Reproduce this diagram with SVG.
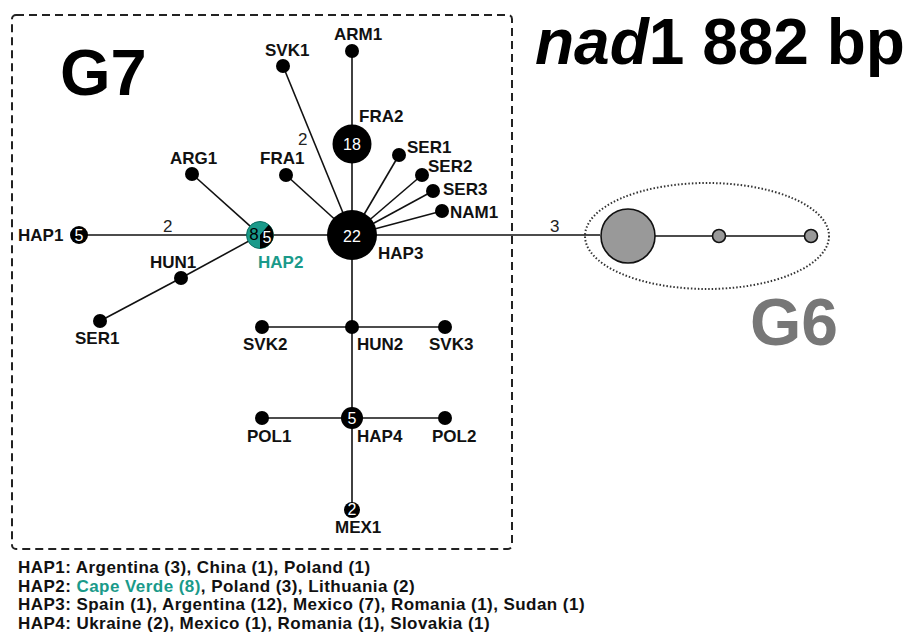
<svg xmlns="http://www.w3.org/2000/svg" width="909" height="635" viewBox="0 0 909 635">
<style>
text{font-family:"Liberation Sans",Arial,sans-serif}
.lb{font-size:17px;font-weight:bold;fill:#111}
.num{font-size:16px;fill:#fff;text-anchor:middle}
.e{stroke:#111;stroke-width:1.6;fill:none}
.dot{fill:#000}
.g6{fill:#999;stroke:#111;stroke-width:1.6}
.leg{font-size:17px;font-weight:bold;fill:#111;letter-spacing:0.45px}
.el{font-size:17px;fill:#222}
</style>
<rect x="0" y="0" width="909" height="635" fill="#fff"/>
<rect x="12" y="15" width="500" height="534" rx="4" fill="none" stroke="#222" stroke-width="2" stroke-dasharray="8 5"/>
<text x="60" y="95" font-size="65" font-weight="bold" fill="#000">G7</text>
<text x="535" y="64" font-size="64" font-weight="bold" fill="#000"><tspan font-style="italic">nad</tspan>1 882 bp</text>
<ellipse cx="707" cy="236" rx="122" ry="53" fill="none" stroke="#333" stroke-width="2" stroke-dasharray="1.5 2"/>
<text x="750" y="345" font-size="66" font-weight="bold" fill="#777">G6</text>
<g id="connectors">
<line class="e" x1="79" y1="235" x2="600" y2="235"/>
<line class="e" x1="654" y1="236" x2="811" y2="236"/>
<line class="e" x1="352" y1="51" x2="352" y2="510"/>
<line class="e" x1="352" y1="235" x2="283" y2="66"/>
<line class="e" x1="352" y1="235" x2="286" y2="175"/>
<line class="e" x1="352" y1="235" x2="399" y2="155"/>
<line class="e" x1="352" y1="235" x2="422" y2="175"/>
<line class="e" x1="352" y1="235" x2="433" y2="191"/>
<line class="e" x1="352" y1="235" x2="442" y2="211"/>
<line class="e" x1="260" y1="235" x2="192" y2="174"/>
<line class="e" x1="260" y1="235" x2="181" y2="278"/>
<line class="e" x1="181" y1="278" x2="100" y2="321"/>
<line class="e" x1="262" y1="327" x2="445" y2="327"/>
<line class="e" x1="262" y1="418" x2="445" y2="418"/>
<text class="el" x="163" y="232">2</text>
<text class="el" x="298" y="145">2</text>
<text class="el" x="550" y="232" font-size="15">3</text>
</g>
<g id="HAP1"><circle class="dot" cx="79" cy="235" r="9"/><text class="num" x="79" y="241">5</text><text class="lb" x="18" y="241">HAP1</text></g>
<g id="HAP2"><circle cx="260" cy="235" r="13.5" fill="#1a9a8a" stroke="#0c6f63" stroke-width="1"/><path d="M260,235 L268.7,224.7 A13.5,13.5 0 0 1 260,248.5 Z" fill="#000"/><text x="254" y="240" font-size="17" fill="#000" text-anchor="middle">8</text><text class="num" x="267" y="243">5</text><text x="258" y="268" font-size="17" font-weight="bold" fill="#1a9a8a">HAP2</text></g>
<g id="HAP3"><circle class="dot" cx="352" cy="235" r="25"/><text class="num" x="352" y="242" font-size="20">22</text><text class="lb" x="378" y="259">HAP3</text></g>
<g id="FRA2"><circle class="dot" cx="352" cy="144" r="19.5"/><text class="num" x="352" y="150" font-size="18">18</text><text class="lb" x="359" y="122">FRA2</text></g>
<g id="ARM1"><circle class="dot" cx="352" cy="51" r="7"/><text class="lb" x="334" y="40">ARM1</text></g>
<g id="SVK1"><circle class="dot" cx="283" cy="66" r="7"/><text class="lb" x="265" y="56">SVK1</text></g>
<g id="FRA1"><circle class="dot" cx="286" cy="175" r="7"/><text class="lb" x="260" y="164">FRA1</text></g>
<g id="ARG1"><circle class="dot" cx="192" cy="174" r="7"/><text class="lb" x="170" y="164">ARG1</text></g>
<g id="SER1a"><circle class="dot" cx="399" cy="155" r="7"/><text class="lb" x="407" y="153">SER1</text></g>
<g id="SER2"><circle class="dot" cx="422" cy="175" r="7"/><text class="lb" x="428" y="172">SER2</text></g>
<g id="SER3"><circle class="dot" cx="433" cy="191" r="7"/><text class="lb" x="443" y="195">SER3</text></g>
<g id="NAM1"><circle class="dot" cx="442" cy="211" r="7"/><text class="lb" x="450" y="218">NAM1</text></g>
<g id="HUN1"><circle class="dot" cx="181" cy="278" r="7"/><text class="lb" x="150" y="268">HUN1</text></g>
<g id="SER1b"><circle class="dot" cx="100" cy="321" r="7"/><text class="lb" x="75" y="344">SER1</text></g>
<g id="HUN2"><circle class="dot" cx="352" cy="327" r="7"/><text class="lb" x="357" y="350">HUN2</text></g>
<g id="SVK2"><circle class="dot" cx="262" cy="327" r="7"/><text class="lb" x="243" y="350">SVK2</text></g>
<g id="SVK3"><circle class="dot" cx="445" cy="327" r="7"/><text class="lb" x="429" y="350">SVK3</text></g>
<g id="HAP4"><circle class="dot" cx="352" cy="418" r="11"/><text class="num" x="352" y="424">5</text><text class="lb" x="357" y="442">HAP4</text></g>
<g id="POL1"><circle class="dot" cx="262" cy="418" r="7"/><text class="lb" x="247" y="442">POL1</text></g>
<g id="POL2"><circle class="dot" cx="445" cy="418" r="7"/><text class="lb" x="432" y="442">POL2</text></g>
<g id="MEX1"><circle class="dot" cx="352" cy="510" r="8"/><text class="num" x="352" y="515" font-size="14">2</text><text class="lb" x="335" y="533">MEX1</text></g>
<g id="G6a"><circle class="g6" cx="628" cy="236" r="27"/></g>
<g id="G6b"><circle class="g6" cx="719" cy="236" r="6.5"/></g>
<g id="G6c"><circle class="g6" cx="811" cy="236" r="6.5"/></g>
<g id="legend">
<text class="leg" x="18" y="573">HAP1: Argentina (3), China (1), Poland (1)</text>
<text class="leg" x="18" y="591.5">HAP2: <tspan fill="#1a9a8a">Cape Verde (8)</tspan>, Poland (3), Lithuania (2)</text>
<text class="leg" x="18" y="610">HAP3: Spain (1), Argentina (12), Mexico (7), Romania (1), Sudan (1)</text>
<text class="leg" x="18" y="628.5">HAP4: Ukraine (2), Mexico (1), Romania (1), Slovakia (1)</text>
</g>
</svg>
